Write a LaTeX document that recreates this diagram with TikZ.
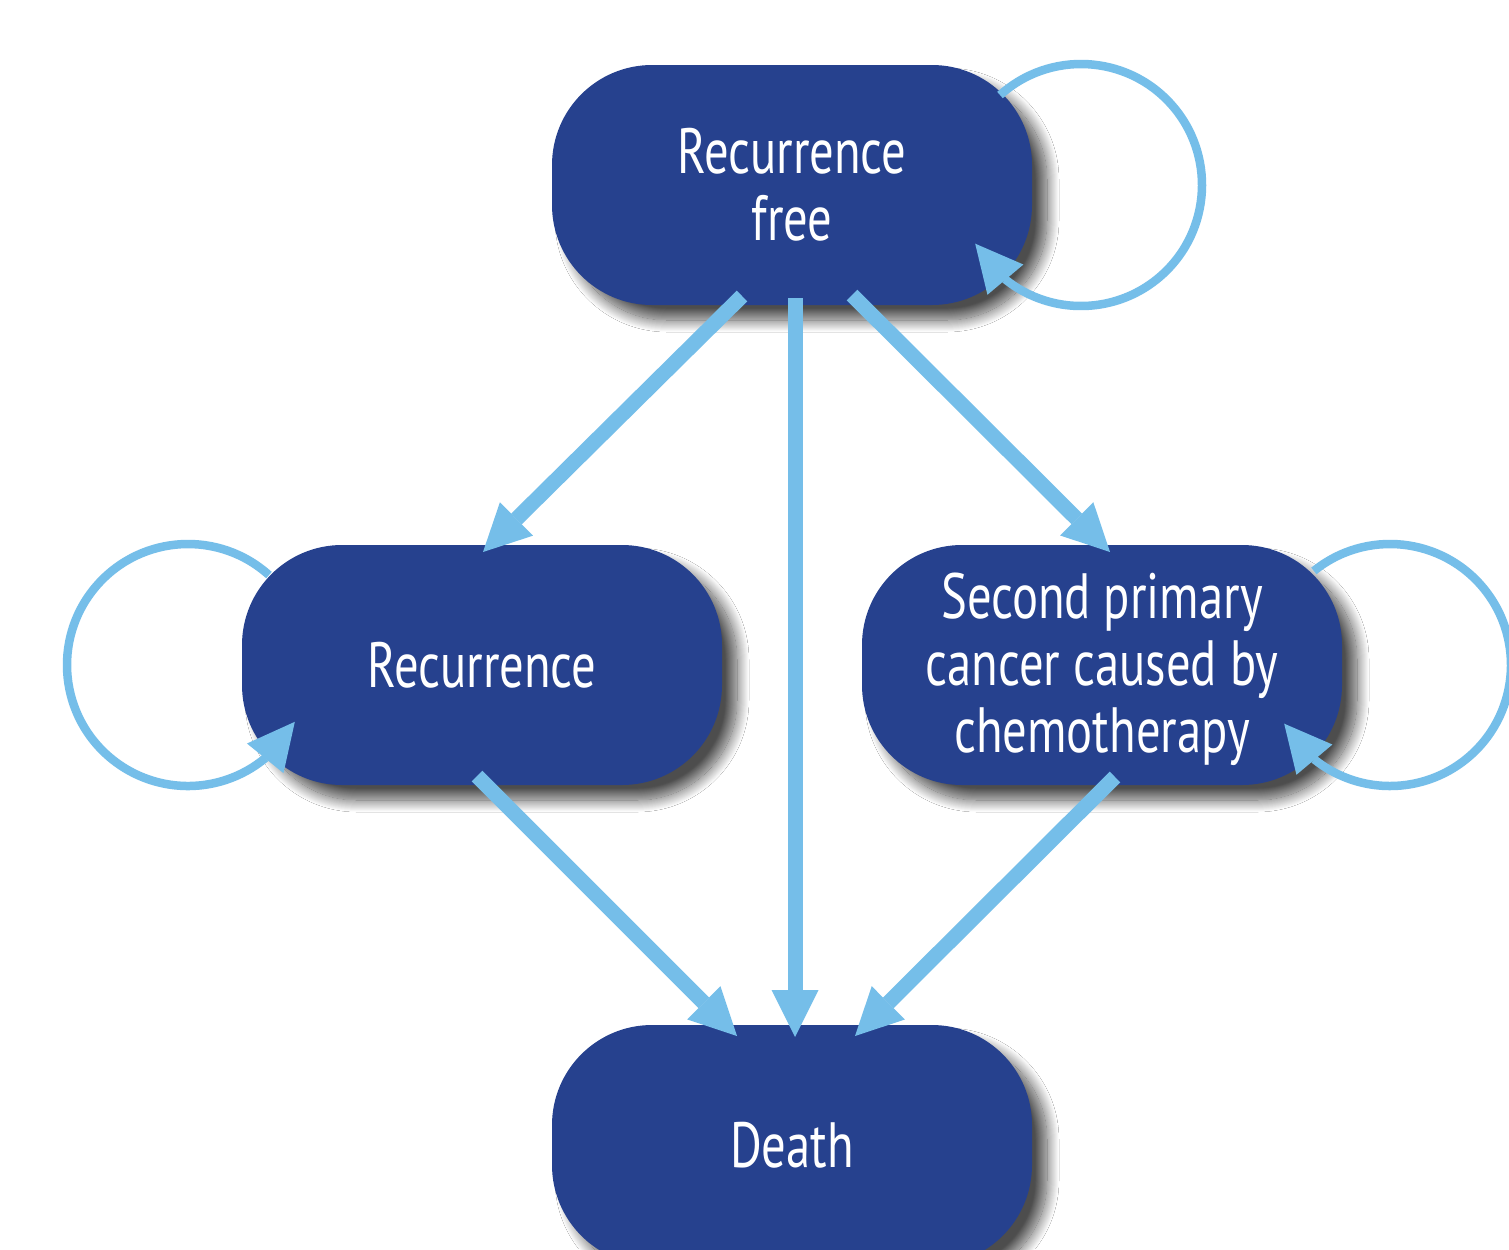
\documentclass[tikz,border=0pt]{standalone}
\usepackage{fontspec}
\setmainfont[FakeStretch=0.76]{PT Sans}
\usetikzlibrary{arrows.meta,bending,shadows.blur}
\definecolor{nodeblue}{RGB}{38,65,142}
\definecolor{arrowblue}{RGB}{117,190,233}
\begin{document}
\begin{tikzpicture}[x=0.5pt,y=-0.5pt,
  state/.style={fill=nodeblue, rounded corners=50pt, minimum width=240pt,
    minimum height=120pt, inner sep=0pt, text=white, align=center,
    font=\fontsize{32pt}{33.5pt}\selectfont,
    blur shadow={shadow xshift=7.5pt, shadow yshift=-7.5pt,
      shadow blur radius=6pt, shadow blur steps=24, shadow opacity=70}},
  trans/.style={draw=arrowblue, line width=7.5pt,
    -{Triangle[length=23.5pt,width=23.5pt,line width=0pt]}},
  selfloop/.style={draw=arrowblue, line width=4.25pt,
    -{Triangle[length=23.5pt,width=23.5pt,line width=0pt]}}]
\clip (0,0) rectangle (1509,1249);
\fill[white] (0,0) rectangle (1509,1249);

\node[state] (rf)  at (792,185)  {Recurrence\\free};
\node[state] (rec) at (482,665)  {Recurrence};
\node[state] (spc) at (1102,665) {\rule{0pt}{27pt}Second primary\\cancer caused by\\chemotherapy};
\node[state] (dth) at (792,1145) {Death};

% connector end points
\coordinate (rfA) at (742,296);
\coordinate (rfB) at (795,298);
\coordinate (rfC) at (852,295);
\coordinate (recIn) at (483,552);
\coordinate (spcIn) at (1110,552);
\coordinate (recOut) at (477,776);
\coordinate (spcOut) at (1115,777);
\coordinate (dthA) at (737,1036);
\coordinate (dthB) at (795,1037);
\coordinate (dthC) at (855,1036);

\draw[trans] (rfA) -- (recIn);
\draw[trans] (rfB) -- (dthB);
\draw[trans] (rfC) -- (spcIn);
\draw[trans] (recOut) -- (dthA);
\draw[trans] (spcOut) -- (dthC);

% self loops
\coordinate (rfL) at (1081,185);
\coordinate (recL) at (188,665);
\coordinate (spcL) at (1390,665);
\draw[selfloop] ($(rfL)+(228:121)$) arc[start angle=228, end angle=511, radius=121];
\draw[selfloop] ($(recL)+(312:121)$) arc[start angle=312, end angle=28, radius=121];
\draw[selfloop] ($(spcL)+(231:121)$) arc[start angle=231, end angle=511, radius=121];
\end{tikzpicture}
\end{document}
